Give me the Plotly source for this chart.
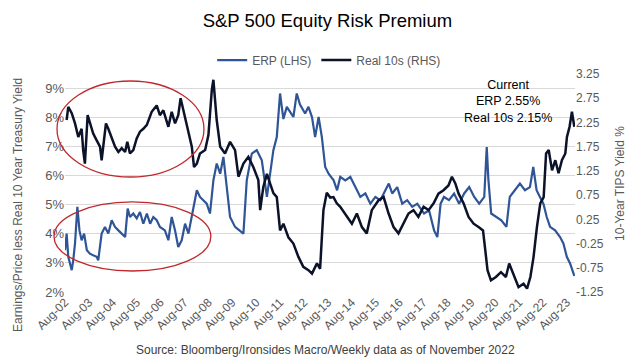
import plotly.graph_objects as go

# ---------------- data ----------------
erp_dates = [
    "2002-08-01", "2002-08-26", "2002-09-20", "2002-10-15", "2002-11-12", "2002-12-05",
    "2003-01-01", "2003-02-06", "2003-03-10", "2003-04-12", "2003-05-20", "2003-07-01",
    "2003-08-17", "2003-10-06", "2003-11-28", "2003-12-22", "2004-02-12", "2004-04-03",
    "2004-05-24", "2004-07-15", "2004-09-04", "2004-10-25", "2004-12-15", "2005-02-05",
    "2005-03-16", "2005-04-20", "2005-06-10", "2005-08-01", "2005-09-20", "2005-11-10",
    "2006-01-03", "2006-02-22", "2006-04-12", "2006-06-03", "2006-07-22", "2006-10-06",
    "2006-11-28", "2007-01-18", "2007-03-10", "2007-04-28", "2007-06-20", "2007-08-10",
    "2007-10-01", "2007-11-21", "2007-12-25", "2008-02-06", "2008-03-25", "2008-05-15",
    "2008-07-06", "2008-08-25", "2008-10-16", "2008-12-06", "2009-01-28", "2009-03-18",
    "2009-05-08", "2009-06-28", "2009-09-12", "2009-11-28", "2010-01-18", "2010-03-10",
    "2010-05-26", "2010-08-10", "2010-10-26", "2011-01-12", "2011-03-01", "2011-04-21",
    "2011-06-12", "2011-08-01", "2011-09-21", "2011-11-12", "2012-01-01", "2012-02-21",
    "2012-04-12", "2012-06-01", "2012-08-18", "2012-10-08", "2012-12-01", "2013-01-18",
    "2013-03-12", "2013-05-01", "2013-06-21", "2013-08-12", "2013-10-28", "2013-12-20",
    "2014-02-06", "2014-04-24", "2014-07-10", "2014-09-25", "2014-12-10", "2015-02-25",
    "2015-05-12", "2015-07-28", "2015-10-12", "2015-12-28", "2016-02-18", "2016-04-10",
    "2016-06-26", "2016-09-10", "2016-11-25", "2017-02-10", "2017-04-28", "2017-08-10",
    "2017-10-25", "2018-01-10", "2018-03-01", "2018-04-20", "2018-06-10", "2018-08-26",
    "2018-11-12", "2019-01-28", "2019-04-15", "2019-07-01", "2019-09-16", "2019-12-01",
    "2020-02-16", "2020-03-25", "2020-04-20", "2020-06-01", "2020-08-18", "2020-11-03",
    "2021-01-20", "2021-03-12", "2021-05-28", "2021-08-14", "2021-10-30", "2022-01-14",
    "2022-03-06", "2022-04-26", "2022-06-16", "2022-08-08", "2022-09-28", "2022-11-18",
    "2023-02-03", "2023-04-20", "2023-06-10", "2023-08-01", "2023-09-20", "2023-10-18",
    "2023-11-12", "2023-11-24",
]
erp_values = [
    3.44, 4.01, 3.21, 3.03, 2.75, 3.09,
    3.67, 4.93, 4.12, 3.78, 4.01, 3.44,
    3.32, 3.26, 3.21, 3.09, 4.01, 4.24,
    4.01, 4.47, 4.24, 4.12, 4.01, 3.89,
    4.87, 4.58, 4.70, 4.53, 4.75, 4.35,
    4.70, 4.35, 4.58, 4.47, 4.24, 4.12,
    3.78, 4.58, 4.12, 3.55, 3.78, 4.35,
    4.01, 4.58, 5.04, 5.50, 5.27, 5.16,
    5.04, 4.70, 5.84, 6.42, 6.07, 6.65,
    5.61, 4.58, 4.24, 4.12, 4.01, 5.84,
    6.76, 6.88, 6.53, 5.27, 6.07, 6.88,
    7.33, 8.83, 7.95, 8.37, 8.20, 8.02,
    8.83, 8.45, 8.14, 8.37, 8.02, 7.33,
    8.02, 7.33, 6.30, 6.07, 5.84, 5.50,
    5.96, 5.84, 5.96, 5.61, 5.27, 5.39,
    5.04, 5.27, 5.16, 5.50, 5.73, 5.39,
    5.61, 5.04, 5.16, 4.93, 5.04, 4.70,
    4.81, 4.12, 3.89, 5.04, 5.27, 5.16,
    5.39, 5.04, 5.39, 5.61, 5.27, 5.04,
    5.27, 6.99, 5.84, 4.70, 4.58, 4.47,
    4.24, 5.27, 5.50, 5.73, 5.50, 5.61,
    6.30, 5.50, 5.27, 5.04, 4.58, 4.24,
    4.12, 3.89, 3.67, 3.21, 2.98, 2.75,
    2.63, 2.55,
]

real_dates = [
    "2002-08-26", "2002-09-20", "2002-11-12", "2003-01-01", "2003-02-20", "2003-04-12",
    "2003-05-06", "2003-06-01", "2003-07-13", "2003-08-17", "2003-10-06", "2003-11-28",
    "2004-01-18", "2004-02-12", "2004-04-18", "2004-05-24", "2004-07-15", "2004-09-04",
    "2004-10-25", "2004-12-15", "2005-02-05", "2005-03-10", "2005-04-20", "2005-06-10",
    "2005-08-01", "2005-09-20", "2005-11-10", "2006-01-03", "2006-03-18", "2006-06-03",
    "2006-07-22", "2006-09-12", "2006-11-28", "2007-01-18", "2007-03-10", "2007-04-28",
    "2007-06-03", "2007-07-25", "2007-10-01", "2007-11-21", "2007-12-25", "2008-02-06",
    "2008-03-25", "2008-06-12", "2008-08-01", "2008-09-22", "2008-10-16", "2008-12-06",
    "2009-01-28", "2009-04-12", "2009-06-28", "2009-09-12", "2009-11-03", "2010-01-18",
    "2010-04-03", "2010-06-18", "2010-09-03", "2010-10-01", "2010-11-18", "2011-01-12",
    "2011-03-01", "2011-04-21", "2011-06-12", "2011-08-01", "2011-09-21", "2011-12-06",
    "2012-02-21", "2012-05-06", "2012-07-21", "2012-10-08", "2012-12-01", "2013-02-15",
    "2013-04-04", "2013-05-25", "2013-07-15", "2013-09-06", "2013-10-25", "2013-12-15",
    "2014-02-06", "2014-05-18", "2014-08-03", "2014-10-18", "2015-01-03", "2015-03-18",
    "2015-06-03", "2015-09-12", "2015-12-01", "2016-02-15", "2016-05-01", "2016-07-15",
    "2016-10-01", "2016-12-15", "2017-03-01", "2017-05-15", "2017-08-03", "2017-10-18",
    "2018-01-03", "2018-03-18", "2018-06-03", "2018-08-18", "2018-10-10", "2018-12-01",
    "2019-01-20", "2019-04-06", "2019-06-21", "2019-09-06", "2019-11-21", "2020-01-28",
    "2020-03-03", "2020-04-06", "2020-05-28", "2020-08-12", "2020-10-28", "2021-01-12",
    "2021-03-03", "2021-05-18", "2021-07-24", "2021-10-09", "2021-12-01", "2022-01-21",
    "2022-03-10", "2022-05-01", "2022-06-21", "2022-08-12", "2022-09-18", "2022-10-28",
    "2022-12-18", "2023-02-06", "2023-03-28", "2023-05-18", "2023-07-09", "2023-08-03",
    "2023-09-12", "2023-10-18", "2023-11-12", "2023-11-24",
]
real_values = [
    2.30, 2.57, 2.44, 2.23, 1.95, 2.12,
    1.68, 1.40, 2.40, 2.23, 2.02, 1.88,
    1.75, 1.47, 2.23, 2.12, 1.95, 1.75,
    1.64, 1.72, 1.64, 1.85, 1.61, 1.68,
    1.92, 2.06, 2.12, 2.20, 2.47, 2.60,
    2.40, 2.50, 2.16, 2.47, 2.23, 2.40,
    2.75, 2.44, 2.02, 1.75, 1.33, 1.40,
    1.61, 1.68, 1.99, 2.92, 3.13, 2.30,
    1.75, 1.61, 1.85, 1.68, 1.13, 1.40,
    1.54, 1.33, 1.06, 0.44, 0.92, 1.19,
    0.99, 0.79, 0.71, 0.02, 0.16, -0.12,
    -0.25, -0.52, -0.73, -0.80, -0.87, -0.66,
    -0.77, 0.44, 0.80, 0.70, 0.71, 0.58,
    0.51, 0.30, 0.16, 0.37, 0.09, -0.04,
    0.44, 0.64, 0.71, 0.37, 0.09, -0.04,
    0.16, 0.37, 0.44, 0.30, 0.51, 0.44,
    0.58, 0.78, 0.85, 0.95, 1.13, 0.99,
    0.78, 0.58, 0.30, 0.16, 0.09, 0.02,
    -0.39, -0.80, -1.01, -0.94, -0.84, -0.94,
    -0.66, -0.94, -1.15, -1.08, -1.18, -0.94,
    -0.53, 0.09, 0.58, 0.71, 1.61, 1.68,
    1.26, 1.47, 1.20, 1.47, 1.61, 1.95,
    2.16, 2.47, 2.30, 2.16,
]

x_tick_dates = [f"{y}-08-01" for y in range(2002, 2024)]
x_tick_labels = [f"Aug-{y % 100:02d}" for y in range(2002, 2024)]
left_ticks = [2, 3, 4, 5, 6, 7, 8, 9]
left_tick_labels = [f"{v}%" for v in left_ticks]
right_ticks = [-1.25, -0.75, -0.25, 0.25, 0.75, 1.25, 1.75, 2.25, 2.75, 3.25]
right_tick_labels = [f"{v:.2f}" for v in right_ticks]

# ---------------- styling ----------------
FONT = "Liberation Sans, Arial, sans-serif"
GREY = "#595959"
BLUE = "#2F5597"
NAVY = "#0B1229"
RED = "#C0282D"

fig = go.Figure()
fig.add_trace(go.Scatter(x=erp_dates, y=erp_values, name="ERP (LHS)", mode="lines",
                         line=dict(color=BLUE, width=2.2), yaxis="y"))
fig.add_trace(go.Scatter(x=real_dates, y=real_values, name="Real 10s (RHS)", mode="lines",
                         line=dict(color=NAVY, width=2.5), yaxis="y2"))

fig.update_layout(
    width=642, height=361,
    margin=dict(l=65, r=67, t=74, b=69, autoexpand=False),
    paper_bgcolor="white", plot_bgcolor="white",
    font=dict(family=FONT, size=12, color=GREY),
    title=dict(text="S&P 500 Equity Risk Premium", x=0.51, xanchor="center",
               y=1 - 21 / 361, yanchor="middle",
               font=dict(family=FONT, size=18.5, color="#000000")),
    showlegend=True,
    legend=dict(orientation="h", x=0.518, xanchor="center", y=1.064, yanchor="middle",
                font=dict(family=FONT, size=12, color=GREY), itemwidth=30,
                bgcolor="rgba(0,0,0,0)"),
    xaxis=dict(type="date", range=["2002-08-01", "2023-12-04"], automargin=False,
               tickmode="array", tickvals=x_tick_dates, ticktext=x_tick_labels,
               tickangle=-45, showgrid=False, zeroline=False, showline=False,
               ticks="", tickfont=dict(family=FONT, size=12, color=GREY)),
    yaxis=dict(range=[2, 9.5], tickmode="array", tickvals=left_ticks, automargin=False,
               ticktext=left_tick_labels, showgrid=True, gridcolor="#D9D9D9",
               gridwidth=1, zeroline=False, showline=False, ticks="",
               tickfont=dict(family=FONT, size=13, color=GREY)),
    yaxis2=dict(range=[-1.25, 3.25], overlaying="y", side="right", tickmode="array",
                tickvals=right_ticks, ticktext=right_tick_labels, showgrid=False,
                zeroline=False, showline=False, ticks="", automargin=False,
                tickfont=dict(family=FONT, size=12, color=GREY)),
    shapes=[
        dict(type="circle", xref="paper", yref="paper", x0=-0.0157, x1=0.2725,
             y0=0.5275, y1=0.968, line=dict(color=RED, width=1.3)),
        dict(type="circle", xref="paper", yref="paper", x0=-0.0216, x1=0.286,
             y0=0.0963, y1=0.413, line=dict(color=RED, width=1.3)),
    ],
    annotations=[
        dict(text="Current<br>ERP 2.55%<br>Real 10s 2.15%", xref="paper", yref="paper",
             x=0.869, y=0.876, xanchor="center", yanchor="middle", showarrow=False,
             font=dict(family=FONT, size=12.5, color="#000000")),
        dict(text="Earnings/Price less Real 10 Year Treasury Yield", xref="paper",
             yref="paper", x=-0.092, y=0.40, textangle=-90, showarrow=False,
             xanchor="center", yanchor="middle",
             font=dict(family=FONT, size=12, color=GREY)),
        dict(text="10-Year TIPS Yield %", xref="paper", yref="paper", x=1.088, y=0.5,
             textangle=-90, showarrow=False, xanchor="center", yanchor="middle",
             font=dict(family=FONT, size=12, color=GREY)),
        dict(text="Source: Bloomberg/Ironsides Macro/Weekly data as of November 2022",
             xref="paper", yref="paper", x=0.51, y=-0.266, showarrow=False,
             xanchor="center", yanchor="middle",
             font=dict(family=FONT, size=12, color="#404040")),
    ],
)

fig.write_html("out.html",
               config={"displayModeBar": False},
               post_script="document.body.style.margin='0';document.body.style.overflow='hidden';")
